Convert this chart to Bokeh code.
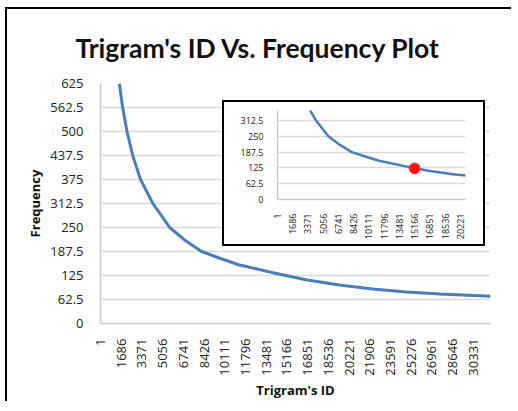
import math
from bokeh.plotting import figure
from bokeh.models import Range1d, FixedTicker, ColumnDataSource
from bokeh.embed import file_html
from bokeh.resources import INLINE

# ---- data ----
trigram_id = [1533, 1803, 2155, 2622, 3254, 4262, 4970, 5630, 6856, 7500,
              8220, 9700, 11228, 13934, 16695, 19420, 22130, 24890, 27620,
              31720]
frequency = [625, 562.5, 500, 437.5, 375, 312.5, 280, 250, 217, 203,
             187.5, 170, 153, 133, 114, 100, 90, 82, 77, 71]

highlight_id = [15166]
highlight_freq = [123]

x_tick_labels = ["1", "1686", "3371", "5056", "6741", "8426", "10111", "11796",
                 "13481", "15166", "16851", "18536", "20221", "21906", "23591",
                 "25276", "26961", "28646", "30331"]
inset_x_tick_labels = x_tick_labels[:13]
y_tick_labels = ["0", "62.5", "125", "187.5", "250", "312.5", "375", "437.5",
                 "500", "562.5", "625"]
inset_y_tick_labels = y_tick_labels[:6]

title_text = "Trigram's ID Vs. Frequency Plot"
x_title = "Trigram's ID"
y_title = "Frequency"

src = ColumnDataSource(data=dict(x=trigram_id, y=frequency))
hl = ColumnDataSource(data=dict(x=highlight_id, y=highlight_freq))

LINE = "#4a7ebb"
GRID = "#d9d9d9"
FONT = "Open Sans"


def style_axes(p, xlabels, ylabels, size):
    xt = [int(s) for s in xlabels]
    yt = [float(s) for s in ylabels]
    p.xaxis.ticker = FixedTicker(ticks=xt)
    p.xaxis.major_label_overrides = {t: s for t, s in zip(xt, xlabels)}
    p.yaxis.ticker = FixedTicker(ticks=yt)
    p.yaxis.major_label_overrides = {t: s for t, s in zip(yt, ylabels)}
    for ax in (p.xaxis, p.yaxis):
        ax.major_tick_line_color = None
        ax.minor_tick_line_color = None
        ax.axis_line_color = "#c8c8c8"
        ax.axis_line_width = 1.5
        ax.major_label_text_font = FONT
        ax.major_label_text_font_size = size
        ax.major_label_text_color = "#222222"
    p.xaxis.major_label_orientation = math.pi / 2
    p.xgrid.grid_line_color = None
    p.ygrid.grid_line_color = GRID
    p.ygrid.grid_line_width = 1.5
    p.outline_line_color = None


# ---- main chart ----
main = figure(width=506, height=394, x_range=Range1d(0, 31720),
              y_range=Range1d(0, 625), output_backend="svg",
              toolbar_location=None, min_border_left=93, min_border_right=23,
              min_border_top=74, min_border_bottom=80,
              styles={"border-left": "2px solid black",
                      "border-top": "2px solid black",
                      "position": "absolute", "left": "5px", "top": "7px"})
style_axes(main, x_tick_labels, y_tick_labels, "13px")
main.xaxis.major_label_standoff = 9
main.yaxis.major_label_standoff = 11
main.xaxis.axis_label = x_title
main.yaxis.axis_label = y_title
for ax in (main.xaxis, main.yaxis):
    ax.axis_label_text_font = FONT
    ax.axis_label_text_font_size = "13px"
    ax.axis_label_text_font_style = "bold"
    ax.axis_label_text_color = "#111111"
main.xaxis.axis_label_standoff = 2
main.yaxis.axis_label_standoff = 3

main.title.text = title_text
main.title.text_font = "Lato"
main.title.text_font_size = "26.5px"
main.title.text_font_style = "bold"
main.title.text_color = "#111111"
main.title.align = "left"
main.title.offset = -25
main.title.standoff = 40

main.line("x", "y", source=src, line_color=LINE, line_width=3)

# ---- inset chart ----
inset = figure(width=263, height=146, x_range=Range1d(0, 20800),
               y_range=Range1d(0, 352), output_backend="svg",
               toolbar_location=None, min_border_left=53, min_border_right=22,
               min_border_top=8, min_border_bottom=49,
               styles={"border": "2px solid black",
                       "position": "absolute", "left": "222px", "top": "100px"})
style_axes(inset, inset_x_tick_labels, inset_y_tick_labels, "9px")
inset.xaxis.major_label_standoff = 8
inset.yaxis.major_label_standoff = 8
inset.line("x", "y", source=src, line_color=LINE, line_width=2.5)
inset.scatter("x", "y", source=hl, size=11, fill_color="#ff1010",
              line_color="#ff4040", line_width=1)

open("out.html", "w").write(file_html([main, inset], INLINE))
